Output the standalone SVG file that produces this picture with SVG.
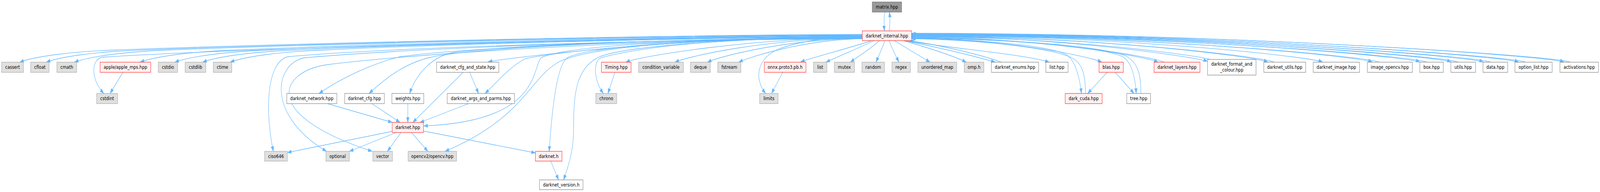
<svg xmlns="http://www.w3.org/2000/svg" width="5116" height="491" viewBox="0 0 5116 491" preserveAspectRatio="none" style="width:100vw;height:100vh;display:block">
<style>
.edges path{fill:none;stroke:#63b8ff;stroke-width:1.3;marker-end:url(#a)}
.g rect{fill:#e0e0e0;stroke:#999999;stroke-width:1}
.r rect{fill:#fff0f0;stroke:#ff0000;stroke-width:1}
.w rect{fill:#ffffff;stroke:#666666;stroke-width:1}
.m rect{fill:#999999;stroke:#666666;stroke-width:1}
text{font-family:'DejaVu Sans','Liberation Sans',sans-serif;font-size:13px;text-anchor:middle;fill:#000000}
</style>
<defs>
<marker id="a" markerUnits="userSpaceOnUse" markerWidth="14" markerHeight="10" viewBox="0 0 14 10" refX="13" refY="5" orient="auto">
<path d="M0,0.4 L13,5 L0,9.6 Z" fill="#63b8ff" stroke="#63b8ff" stroke-width="0.6"/>
</marker>
</defs>
<rect width="5116" height="491" fill="#ffffff"/>
<g class="edges">
<path d="M2829,31 C2826,48 2826,62 2828,79"/>
<path d="M2843,79 C2846,62 2846,48 2844,31"/>
<path d="M2757,88 C1919,90 722,117 363,128 C223,132 108,145 63,159"/>
<path d="M2757,89 C1949,91 794,117 448,128 C308,132 193,145 148,159"/>
<path d="M2757,90 C1980,92 871,117 538,128 C398,132 283,145 238,159"/>
<path d="M2757,91 C2054,93 1049,117 748,128 C608,132 493,145 448,159"/>
<path d="M2757,92 C2093,94 1144,117 859,128 C719,132 604,145 559,159"/>
<path d="M2757,93 C2124,95 1219,117 948,128 C808,132 693,145 648,159"/>
<path d="M2757,94 C2155,96 1294,117 1036,128 C896,132 781,145 736,159"/>
<path d="M2757,95 C2100,97 800,122 330,146 C292,149 287,200 332,239"/>
<path d="M393,185 L352,239"/>
<path d="M2757,96 C2100,98 1450,125 1280,145 C1200,160 1100,195 1020,239"/>
<path d="M2757,97 C2000,100 1500,125 1380,146 C1300,160 1240,195 1180,239"/>
<path d="M2757,98 C2000,100 1600,120 1450,134 C1380,145 1330,190 1310,239"/>
<path d="M2757,99 C2000,101 1200,125 920,145 C850,160 848,290 874,387"/>
<path d="M2757,99 C2000,101 1300,125 970,148 C870,170 860,300 1044,387"/>
<path d="M2757,98 C2000,100 1300,140 1050,165 C900,180 820,290 1190,387"/>
<path d="M2757,94 C2159,94 1610,150 1561,158"/>
<path d="M2757,95 C2200,98 1800,130 1680,150 C1630,170 1590,210 1551,239"/>
<path d="M1502,185 L1530,239"/>
<path d="M1481,185 L1320,313"/>
<path d="M1047,265 L1254,313"/>
<path d="M1189,265 L1279,313"/>
<path d="M1304,265 L1304,313"/>
<path d="M1498,265 L1343,313"/>
<path d="M2757,96 C2200,99 1800,118 1730,148 C1700,175 1730,310 1355,322"/>
<path d="M1254,336 L919,390"/>
<path d="M1267,339 L1117,387"/>
<path d="M1282,339 L1239,387"/>
<path d="M1316,339 L1368,387"/>
<path d="M1354,335 L1712,391"/>
<path d="M2757,97 C2200,100 1900,118 1790,157 C1690,200 1680,300 1423,387"/>
<path d="M2757,95 C2300,98 1900,115 1815,147 C1780,165 1765,280 1756,387"/>
<path d="M1761,412 L1786,460"/>
<path d="M2757,95 C2300,98 2000,120 1917,145 C1840,175 1834,240 1834,333 C1834,380 1820,420 1802,460"/>
<path d="M2757,94 C2300,97 2050,120 1920,148 C1895,160 1900,205 1929,239"/>
<path d="M2757,96 C2400,98 2050,143 2001,159"/>
<path d="M1966,185 L1944,239"/>
<path d="M2757,97 C2450,99 2205,143 2158,159"/>
<path d="M2757,98 C2520,100 2305,143 2262,159"/>
<path d="M2757,99 C2580,101 2405,143 2362,159"/>
<path d="M2757,92 C2650,95 2560,105 2490,125 C2420,150 2410,200 2448,239"/>
<path d="M2787,104 C2720,122 2620,142 2560,158"/>
<path d="M2503,185 L2467,239"/>
<path d="M2795,104 C2750,121 2690,141 2641,159"/>
<path d="M2812,104 C2790,121 2750,141 2719,159"/>
<path d="M2829,104 C2822,122 2810,142 2801,159"/>
<path d="M2843,104 C2851,122 2864,142 2874,159"/>
<path d="M2860,104 C2895,121 2940,143 2974,159"/>
<path d="M2889,104 C2950,118 3040,140 3090,159"/>
<path d="M2893,104 C2990,120 3110,142 3182,159"/>
<path d="M3202,159 C3130,138 3000,115 2909,104"/>
<path d="M2897,104 C3020,122 3270,138 3355,159"/>
<path d="M2915,98 C3150,101 3360,118 3410,140 C3440,155 3452,200 3458,239"/>
<path d="M3471,239 C3470,190 3462,160 3422,146 C3360,124 3150,102 2915,99"/>
<path d="M2915,99 C3219,99 3483,144 3523,159"/>
<path d="M3540,185 L3478,239"/>
<path d="M3566,185 L3626,239"/>
<path d="M2915,97 C3250,100 3530,122 3590,145 C3620,160 3630,200 3633,239"/>
<path d="M3648,239 C3648,195 3642,162 3600,143 C3520,118 3250,100 2915,98"/>
<path d="M2915,95 C3309,95 3663,144 3703,159"/>
<path d="M3723,159 C3683,144 3319,96 2915,96"/>
<path d="M2915,93 C3388,93 3823,146 3861,157"/>
<path d="M3868,152 C3830,141 3391,94 2915,94"/>
<path d="M2915,92 C3485,92 4014,144 4054,159"/>
<path d="M4074,159 C4034,144 3495,93 2915,93"/>
<path d="M2915,91 C3572,91 4189,144 4229,159"/>
<path d="M2915,90 C3652,90 4348,144 4388,159"/>
<path d="M4410,159 C4370,144 3662,91 2915,91"/>
<path d="M2915,89 C3728,89 4500,144 4540,159"/>
<path d="M4562,159 C4522,144 3738,90 2915,90"/>
<path d="M2915,88 C3778,88 4600,144 4640,159"/>
<path d="M4662,159 C4622,144 3788,89 2915,89"/>
<path d="M2915,87 C3829,87 4703,144 4743,159"/>
<path d="M4766,159 C4726,144 3840,88 2915,88"/>
<path d="M2915,86 C3886,86 4816,144 4856,159"/>
<path d="M4878,159 C4838,144 3896,87 2915,87"/>
<path d="M2915,85 C3958,85 4961,144 5001,159"/>
<path d="M5021,159 C4981,144 3968,86 2915,86"/>
</g>
<g id="n_matrix" class="m"><rect x="2789" y="5" width="94" height="26"/><text x="2836" y="22">matrix.hpp</text></g>
<g id="n_internal" class="r"><rect x="2757" y="79" width="158" height="25"/><text x="2836" y="96">darknet_internal.hpp</text></g>
<g id="n_cassert" class="g"><rect x="5" y="159" width="70" height="26"/><text x="40" y="176">cassert</text></g>
<g id="n_cfloat" class="g"><rect x="98" y="159" width="59" height="26"/><text x="127.5" y="176">cfloat</text></g>
<g id="n_cmath" class="g"><rect x="182" y="159" width="63" height="26"/><text x="213.5" y="176">cmath</text></g>
<g id="n_apple" class="r"><rect x="320" y="159" width="162" height="26"/><text x="401" y="176">apple/apple_mps.hpp</text></g>
<g id="n_cstdio" class="g"><rect x="506" y="159" width="62" height="26"/><text x="537" y="176">cstdio</text></g>
<g id="n_cstdlib" class="g"><rect x="592" y="159" width="66" height="26"/><text x="625" y="176">cstdlib</text></g>
<g id="n_ctime" class="g"><rect x="682" y="159" width="59" height="26"/><text x="711.5" y="176">ctime</text></g>
<g id="n_cfgstate" class="w"><rect x="1396" y="159" width="199" height="26"/><text x="1495.5" y="176">darknet_cfg_and_state.hpp</text></g>
<g id="n_timing" class="r"><rect x="1923" y="159" width="95" height="26"/><text x="1970.5" y="176">Timing.hpp</text></g>
<g id="n_condvar" class="g"><rect x="2042" y="159" width="143" height="26"/><text x="2113.5" y="176">condition_variable</text></g>
<g id="n_deque" class="g"><rect x="2208" y="159" width="63" height="26"/><text x="2239.5" y="176">deque</text></g>
<g id="n_fstream" class="g"><rect x="2295" y="159" width="74" height="26"/><text x="2332" y="176">fstream</text></g>
<g id="n_onnx" class="r"><rect x="2444" y="159" width="133" height="26"/><text x="2510.5" y="176">onnx.proto3.pb.h</text></g>
<g id="n_list" class="g"><rect x="2601" y="159" width="43" height="26"/><text x="2622.5" y="176">list</text></g>
<g id="n_mutex" class="g"><rect x="2668" y="159" width="64" height="26"/><text x="2700" y="176">mutex</text></g>
<g id="n_random" class="g"><rect x="2756" y="159" width="72" height="26"/><text x="2792" y="176">random</text></g>
<g id="n_regex" class="g"><rect x="2852" y="159" width="59" height="26"/><text x="2881.5" y="176">regex</text></g>
<g id="n_umap" class="g"><rect x="2935" y="159" width="124" height="26"/><text x="2997" y="176">unordered_map</text></g>
<g id="n_omp" class="g"><rect x="3083" y="159" width="63" height="26"/><text x="3114.5" y="176">omp.h</text></g>
<g id="n_enums" class="w"><rect x="3170" y="159" width="151" height="26"/><text x="3245.5" y="176">darknet_enums.hpp</text></g>
<g id="n_listhpp" class="w"><rect x="3344" y="159" width="71" height="26"/><text x="3379.5" y="176">list.hpp</text></g>
<g id="n_blas" class="r"><rect x="3514" y="159" width="78" height="26"/><text x="3553" y="176">blas.hpp</text></g>
<g id="n_layers" class="r"><rect x="3690" y="159" width="147" height="26"/><text x="3763.5" y="176">darknet_layers.hpp</text></g>
<g id="n_format" class="w"><rect x="3861" y="152" width="155" height="40"/><text x="3938.5" y="168">darknet_format_and</text><text x="3938.5" y="183">_colour.hpp</text></g>
<g id="n_dutils" class="w"><rect x="4041" y="159" width="134" height="26"/><text x="4108" y="176">darknet_utils.hpp</text></g>
<g id="n_dimage" class="w"><rect x="4199" y="159" width="148" height="26"/><text x="4273" y="176">darknet_image.hpp</text></g>
<g id="n_imgcv" class="w"><rect x="4372" y="159" width="144" height="26"/><text x="4444" y="176">image_opencv.hpp</text></g>
<g id="n_box" class="w"><rect x="4540" y="159" width="75" height="26"/><text x="4577.5" y="176">box.hpp</text></g>
<g id="n_utils" class="w"><rect x="4639" y="159" width="79" height="26"/><text x="4678.5" y="176">utils.hpp</text></g>
<g id="n_data" class="w"><rect x="4742" y="159" width="79" height="26"/><text x="4781.5" y="176">data.hpp</text></g>
<g id="n_option" class="w"><rect x="4844" y="159" width="119" height="26"/><text x="4903.5" y="176">option_list.hpp</text></g>
<g id="n_activ" class="w"><rect x="4988" y="159" width="123" height="26"/><text x="5049.5" y="176">activations.hpp</text></g>
<g id="n_cstdint" class="g"><rect x="309" y="239" width="67" height="26"/><text x="342.5" y="256">cstdint</text></g>
<g id="n_network" class="w"><rect x="917" y="239" width="160" height="26"/><text x="997" y="256">darknet_network.hpp</text></g>
<g id="n_cfg" class="w"><rect x="1102" y="239" width="127" height="26"/><text x="1165.5" y="256">darknet_cfg.hpp</text></g>
<g id="n_weights" class="w"><rect x="1253" y="239" width="102" height="26"/><text x="1304" y="256">weights.hpp</text></g>
<g id="n_args" class="w"><rect x="1430" y="239" width="215" height="26"/><text x="1537.5" y="256">darknet_args_and_parms.hpp</text></g>
<g id="n_chrono" class="g"><rect x="1905" y="239" width="67" height="26"/><text x="1938.5" y="256">chrono</text></g>
<g id="n_limits" class="g"><rect x="2429" y="239" width="59" height="26"/><text x="2458.5" y="256">limits</text></g>
<g id="n_cuda" class="r"><rect x="3406" y="239" width="118" height="26"/><text x="3465" y="256">dark_cuda.hpp</text></g>
<g id="n_tree" class="w"><rect x="3603" y="239" width="76" height="26"/><text x="3641" y="256">tree.hpp</text></g>
<g id="n_darknethpp" class="r"><rect x="1254" y="313" width="100" height="26"/><text x="1304" y="330">darknet.hpp</text></g>
<g id="n_ciso646" class="g"><rect x="846" y="387" width="73" height="25"/><text x="882.5" y="404">ciso646</text></g>
<g id="n_optional" class="g"><rect x="1042" y="387" width="75" height="25"/><text x="1079.5" y="404">optional</text></g>
<g id="n_vector" class="g"><rect x="1192" y="387" width="63" height="25"/><text x="1223.5" y="404">vector</text></g>
<g id="n_opencv" class="g"><rect x="1305" y="387" width="155" height="25"/><text x="1382.5" y="404">opencv2/opencv.hpp</text></g>
<g id="n_darknethh" class="r"><rect x="1712" y="387" width="85" height="25"/><text x="1754.5" y="404">darknet.h</text></g>
<g id="n_version" class="w"><rect x="1725" y="460" width="139" height="25"/><text x="1794.5" y="477">darknet_version.h</text></g>
</svg>
